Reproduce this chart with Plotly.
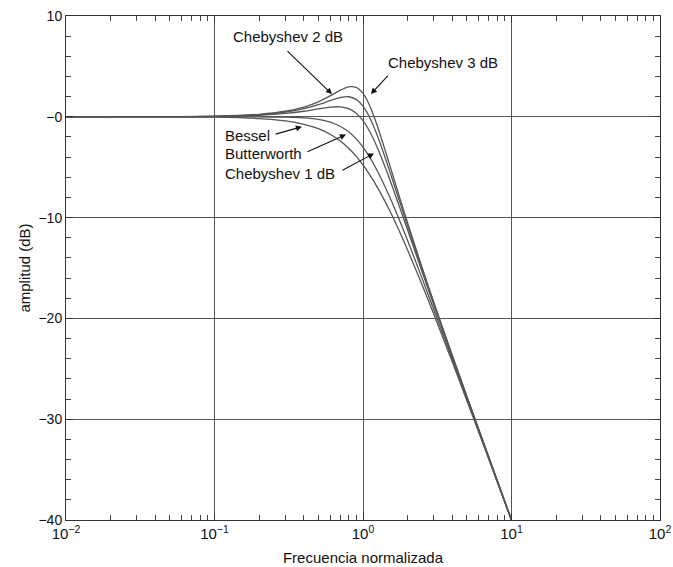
import math
import plotly.graph_objects as go

# Normalized frequency sample points
freq = [0.01, 0.05, 0.1, 0.2, 0.3, 0.4, 0.5, 0.6, 0.7, 0.8, 0.9, 1.0, 1.1,
        1.25, 1.5, 1.75, 2.0, 2.5, 3.0, 4.0, 5.0, 7.0, 10.0]

# Amplitude (dB)
bessel = [0.0, -0.01, -0.04, -0.18, -0.41, -0.74, -1.18, -1.73, -2.38, -3.12,
          -3.92, -4.78, -5.66, -7.00, -9.20, -11.29, -13.23, -16.66, -19.59,
          -24.36, -28.14, -33.89, -40.04]
butterworth = [0.0, 0.0, 0.0, -0.01, -0.04, -0.11, -0.26, -0.53, -0.94, -1.49,
               -2.19, -3.01, -3.92, -5.37, -7.83, -10.16, -12.30, -16.03, -19.14,
               -24.10, -27.97, -33.81, -40.02]
cheb1 = [0.0, 0.01, 0.04, 0.15, 0.33, 0.55, 0.78, 0.95, 0.99, 0.81, 0.36,
         -0.39, -1.36, -3.06, -6.04, -8.81, -11.26, -15.37, -18.68, -23.85,
         -27.81, -33.73, -40.01]
cheb2 = [0.0, 0.01, 0.05, 0.21, 0.46, 0.80, 1.20, 1.60, 1.91, 1.99, 1.73,
         1.05, 0.03, -1.88, -5.22, -8.23, -10.84, -15.12, -18.52, -23.76,
         -27.75, -33.70, -40.00]
cheb3 = [0.0, 0.02, 0.06, 0.25, 0.55, 0.97, 1.49, 2.07, 2.62, 2.97, 2.92,
         2.32, 1.23, -0.91, -4.60, -7.82, -10.55, -14.95, -18.41, -23.70,
         -27.71, -33.68, -39.99]

series = [("Bessel", bessel), ("Butterworth", butterworth),
          ("Chebyshev 1 dB", cheb1), ("Chebyshev 2 dB", cheb2),
          ("Chebyshev 3 dB", cheb3)]

x_ticks = [0.01, 0.1, 1, 10, 100]
x_ticktext = ["10<sup>\u22122</sup>", "10<sup>\u22121</sup>", "10<sup>0</sup>",
              "10<sup>1</sup>", "10<sup>2</sup>"]
y_ticks = [-40, -30, -20, -10, 0, 10]
y_ticktext = ["\u221240", "\u221230", "\u221220", "\u221210", "\u22120", "10"]

fig = go.Figure()
for name, vals in series:
    fig.add_trace(go.Scatter(
        x=freq, y=vals, mode="lines", name=name,
        line=dict(color="#555555", width=1.3, shape="spline", smoothing=0.6),
        showlegend=False, hoverinfo="skip"))

FONT = "Liberation Sans, Arial, sans-serif"


def lx(v):
    return math.log10(v)


# (text, text left x, text y, arrow tail x, tail y, arrow tip x, tip y) in data units
labels = [
    ("Chebyshev 2 dB", 0.129, 7.94, 0.303, 6.67, 0.618, 2.25),
    ("Chebyshev 3 dB", 1.43, 5.39, 1.50, 4.22, 1.13, 2.25),
    ("Bessel", 0.114, -1.86, 0.252, -1.76, 0.388, -0.98),
    ("Butterworth", 0.114, -3.63, 0.413, -3.53, 0.768, -1.76),
    ("Chebyshev 1 dB", 0.114, -5.59, 0.711, -5.39, 1.186, -3.63),
]
for text, tx, ty, ax_, ay_, px, py in labels:
    fig.add_annotation(x=lx(tx), y=ty, text=text, showarrow=False,
                       font=dict(family=FONT, size=15, color="#111"),
                       xanchor="left", yanchor="middle")
    fig.add_annotation(x=lx(px), y=py, ax=lx(ax_), ay=ay_, axref="x", ayref="y",
                       text="", showarrow=True, arrowhead=2, arrowsize=1.1,
                       arrowwidth=1.1, arrowcolor="#111")

fig.update_layout(
    width=673, height=567,
    margin=dict(l=66, r=13, t=16, b=47, autoexpand=False),
    paper_bgcolor="white", plot_bgcolor="white",
    font=dict(family=FONT, size=14, color="#111"),
    xaxis=dict(
        type="log", range=[-2, 2], tickvals=x_ticks, ticktext=x_ticktext,
        automargin=False,
        showgrid=True, gridcolor="#555", gridwidth=1,
        showline=True, linecolor="#333", linewidth=1, mirror="allticks",
        ticks="inside", ticklen=7, tickcolor="#333",
        minor=dict(dtick="D1", ticks="inside", ticklen=5, tickcolor="#444", showgrid=False),
        tickfont=dict(size=15), zeroline=False,
        title=dict(text="Frecuencia normalizada", font=dict(size=15), standoff=11),
    ),
    yaxis=dict(
        range=[-40, 10], tickvals=y_ticks, ticktext=y_ticktext,
        automargin=False,
        showgrid=True, gridcolor="#555", gridwidth=1,
        showline=True, linecolor="#333", linewidth=1, mirror="allticks",
        ticks="inside", ticklen=7, tickcolor="#333",
        minor=dict(dtick=2, ticks="inside", ticklen=5, tickcolor="#444", showgrid=False),
        tickfont=dict(size=14), zeroline=False,
        title=dict(text="amplitud (dB)", font=dict(size=15), standoff=4),
    ),
)

fig.write_html("out.html")
